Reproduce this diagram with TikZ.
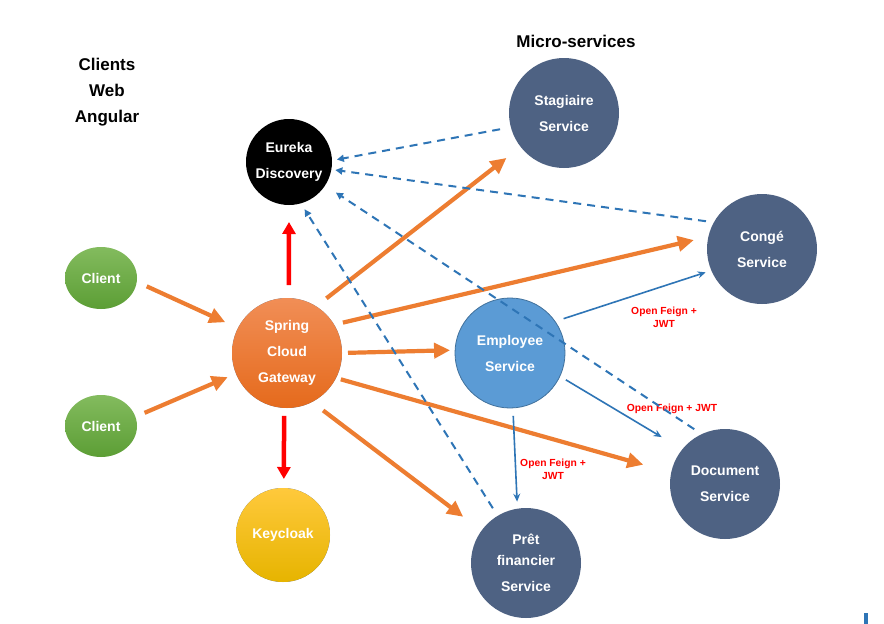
\documentclass[tikz,border=0pt]{standalone}
\usepackage{fontspec}
\setmainfont{Liberation Sans}
\usetikzlibrary{arrows.meta,shapes.geometric}
\definecolor{msblue}{HTML}{4E6283}
\definecolor{empblue}{HTML}{5B9BD5}
\definecolor{empborder}{HTML}{41719C}
\definecolor{arrorange}{HTML}{ED7D31}
\definecolor{arrblue}{HTML}{2E75B6}
\definecolor{greentop}{HTML}{83BB5E}
\definecolor{greenbot}{HTML}{5C9E35}
\definecolor{gwtop}{HTML}{F18E56}
\definecolor{gwbot}{HTML}{E56A1C}
\definecolor{kctop}{HTML}{FFC93C}
\definecolor{kcbot}{HTML}{E6B400}
\begin{document}
\begin{tikzpicture}[x=1pt, y=-1pt, every node/.style={align=center, inner sep=0pt, outer sep=0pt},
	svc/.style={circle, minimum size=110pt, fill=msblue, text=white, font=\fontsize{14}{26}\selectfont\bfseries},
	client/.style={ellipse, minimum width=72pt, minimum height=62pt, top color=greentop, bottom color=greenbot, text=white, font=\fontsize{14}{26}\selectfont\bfseries},
	title/.style={font=\fontsize{17}{26}\selectfont\bfseries},
	lbl/.style={text=red, font=\fontsize{10.3}{13}\selectfont\bfseries},
	orangearr/.style={draw=arrorange, line width=4.2pt, -{Triangle[length=16pt,width=15pt]}},
	redarr/.style={draw=red, line width=4.5pt, -{Triangle[length=12pt,width=13pt]}},
	dasharr/.style={draw=arrblue, line width=2pt, dash pattern=on 8pt off 6pt, -{Triangle[length=7pt,width=7pt]}},
	feignarr/.style={draw=arrblue, line width=1.6pt, -{Stealth[length=8pt,width=7pt]}}]
	\fill[white] (0,0) rectangle (884,624);
	\useasboundingbox (0,0) rectangle (884,624);
	
	\node[title] (clients) at (107,92) {Clients\\Web\\Angular};
	\node[title] (micro) at (576,41) {Micro-services};
	
	\node[client] (c1) at (101,278) {Client};
	\node[client] (c2) at (101,426) {Client};
	\node[svc, top color=gwtop, bottom color=gwbot] (gw) at (287,353) {Spring\\Cloud\\Gateway};
	\node[svc, minimum size=86pt, fill=black] (eur) at (289,162) {Eureka\\Discovery};
	\node[svc, minimum size=94pt, top color=kctop, bottom color=kcbot] (kc) at (283,535) {Keycloak};
	\node[svc] (stag) at (564,113) {Stagiaire\\Service};
	\node[svc] (conge) at (762,249) {Congé\\Service};
	\node[svc, fill=empblue, draw=empborder, line width=0.8pt] (emp) at (510,353) {Employee\\Service};
	\node[svc] (doc) at (725,484) {Document\\Service};
	\node[svc] (pret) at (526,563) {Prêt\\[-5pt]financier\\Service};
	
	\node[lbl] (lblconge) at (664,317) {Open Feign +\\JWT};
	\node[lbl] (lbldoc) at (672,409) {Open Feign + JWT};
	\node[lbl] (lblpret) at (553,469) {Open Feign +\\JWT};
	
	\draw[orangearr, shorten <=11pt, shorten >=14pt] (c1.-6) -- (gw.153);
	\draw[orangearr, shorten <=10pt, shorten >=9pt] (c2.15) -- (gw.202);
	\draw[orangearr, shorten <=13pt, shorten >=18pt] (gw.58) -- (stag.218);
	\draw[orangearr, shorten <=9pt, shorten >=15pt] (gw.31) -- (conge.167);
	\draw[orangearr, shorten <=6pt, shorten >=5pt] (gw.0) -- (emp.177);
	\draw[orangearr, shorten <=5pt, shorten >=29pt] (gw.-27) -- (doc.168);
	\draw[orangearr, shorten <=14pt, shorten >=23pt] (gw.-63) -- (pret.144);
	\draw[redarr, shorten <=13pt, shorten >=17pt] (gw.88) -- (eur.270);
	\draw[redarr, shorten <=8pt, shorten >=9pt] (gw.267) -- (kc.89);
	\draw[dasharr, shorten <=11pt, shorten >=5pt] (stag.195) -- (eur.2);
	\draw[dasharr, shorten <=8pt, shorten >=4pt] (conge.151) -- (eur.-10);
	\draw[dasharr, shorten <=9pt, shorten >=13pt] (doc.115) -- (eur.-33);
	\draw[dasharr, shorten <=9pt, shorten >=7pt] (pret.121) -- (eur.-74);
	\draw[feignarr, shorten <=9pt, shorten >=6pt] (emp.35) -- (conge.203);
	\draw[feignarr, shorten <=7pt, shorten >=24pt] (emp.-25) -- (doc.141);
	\draw[feignarr, shorten <=8pt, shorten >=7pt] (emp.-87) -- (pret.99);
	
	\fill[arrblue] (864,613) rectangle (868,624);
\end{tikzpicture}
\end{document}
